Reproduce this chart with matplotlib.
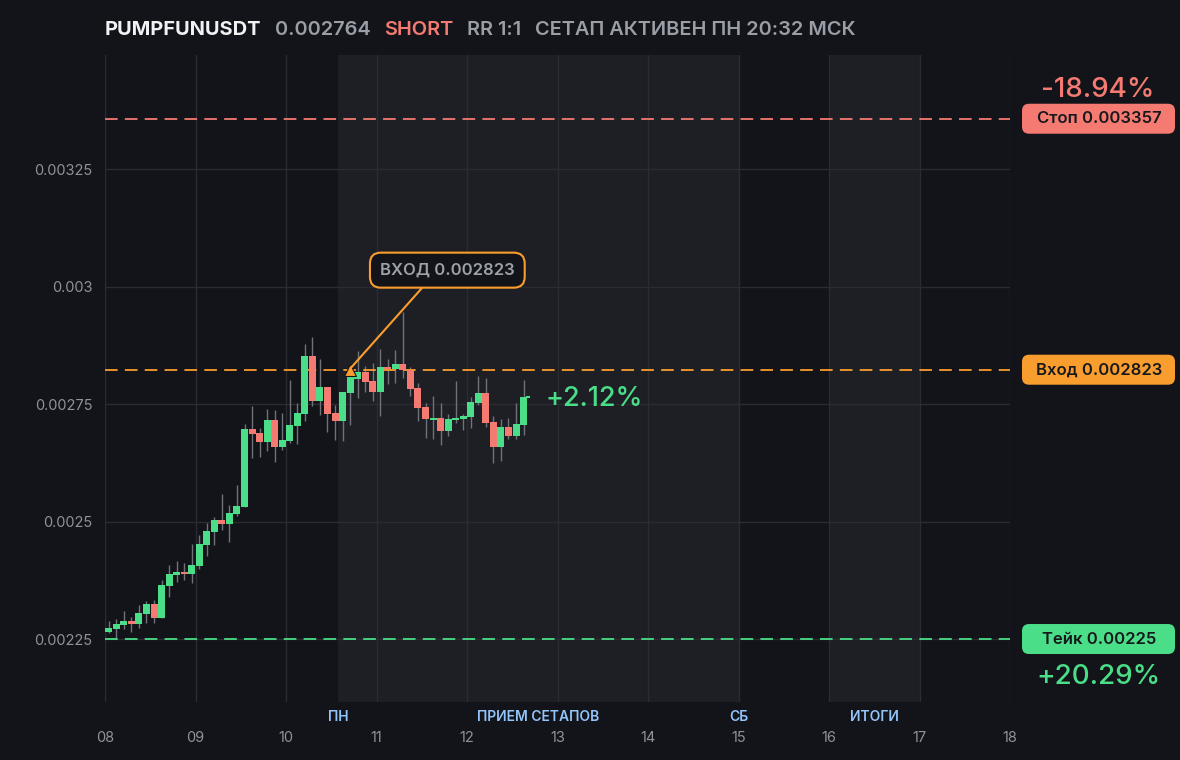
import pandas as pd
import matplotlib
matplotlib.use("Agg")
import matplotlib.pyplot as plt
import matplotlib.dates as mdates
from matplotlib.patches import FancyBboxPatch

plt.rcParams["font.family"] = ["Inter", "DejaVu Sans"]

# 2h candles, starting 08 Nov 00:00
start = "2025-11-08 01:00"
opens = [0.002265, 0.002271, 0.002280, 0.002288, 0.002282, 0.002303, 0.002324, 0.002295,
         0.002363, 0.002386, 0.002393, 0.002388, 0.002405, 0.002450, 0.002478, 0.002503,
         0.002495, 0.002516, 0.002531, 0.002697, 0.002688, 0.002669, 0.002716, 0.002659,
         0.002671, 0.002703, 0.002729, 0.002852, 0.002756, 0.002786, 0.002731, 0.002714,
         0.002773, 0.002803, 0.002818, 0.002799, 0.002776, 0.002829, 0.002824, 0.002835,
         0.002822, 0.002784, 0.002744, 0.002716, 0.002720, 0.002693, 0.002716, 0.002718,
         0.002722, 0.002752, 0.002773, 0.002712, 0.002659, 0.002701, 0.002682, 0.002705]
closes = [0.002273, 0.002282, 0.002288, 0.002282, 0.002305, 0.002324, 0.002295, 0.002365,
          0.002388, 0.002393, 0.002388, 0.002407, 0.002452, 0.002480, 0.002503, 0.002495,
          0.002518, 0.002533, 0.002697, 0.002686, 0.002669, 0.002716, 0.002659, 0.002673,
          0.002705, 0.002731, 0.002852, 0.002756, 0.002786, 0.002729, 0.002714, 0.002776,
          0.002807, 0.002818, 0.002797, 0.002776, 0.002829, 0.002824, 0.002835, 0.002822,
          0.002782, 0.002741, 0.002718, 0.002720, 0.002693, 0.002718, 0.002720, 0.002724,
          0.002754, 0.002773, 0.002710, 0.002659, 0.002701, 0.002682, 0.002707, 0.002764]
highs = [0.002288, 0.002293, 0.002310, 0.002297, 0.002322, 0.002331, 0.002333, 0.002376,
         0.002407, 0.002416, 0.002412, 0.002452, 0.002471, 0.002497, 0.002510, 0.002559,
         0.002535, 0.002578, 0.002707, 0.002746, 0.002699, 0.002739, 0.002737, 0.002731,
         0.002801, 0.002752, 0.002878, 0.002893, 0.002846, 0.002786, 0.002748, 0.002776,
         0.002833, 0.002863, 0.002831, 0.002837, 0.002867, 0.002846, 0.002865, 0.002946,
         0.002829, 0.002795, 0.002752, 0.002767, 0.002752, 0.002729, 0.002799, 0.002729,
         0.002765, 0.002810, 0.002805, 0.002724, 0.002718, 0.002720, 0.002752, 0.002801]
lows = [0.002263, 0.002250, 0.002271, 0.002265, 0.002273, 0.002284, 0.002284, 0.002295,
        0.002339, 0.002371, 0.002376, 0.002369, 0.002399, 0.002427, 0.002450, 0.002482,
        0.002456, 0.002512, 0.002531, 0.002635, 0.002637, 0.002650, 0.002627, 0.002652,
        0.002667, 0.002665, 0.002714, 0.002746, 0.002727, 0.002690, 0.002673, 0.002671,
        0.002705, 0.002763, 0.002776, 0.002756, 0.002724, 0.002793, 0.002795, 0.002805,
        0.002767, 0.002714, 0.002678, 0.002676, 0.002663, 0.002682, 0.002710, 0.002695,
        0.002699, 0.002748, 0.002701, 0.002624, 0.002629, 0.002676, 0.002676, 0.002684]

entry = 0.002823
stop = 0.003357
take = 0.00225
last_price = 0.002764
entry_index = 32
yticks = [0.00225, 0.0025, 0.00275, 0.003, 0.00325]

BG = "#131419"
BAND = "#1e1f24"
GRID = "#2a2c31"
GREEN = "#4ade88"
RED = "#f47a72"
ORANGE = "#f99d2e"
WICK = "#6f7279"
TXT = "#8e929a"
BLUE = "#93c5fd"

times = pd.date_range(start, periods=len(opens), freq="2h")

fig = plt.figure(figsize=(11.8, 7.6), dpi=100, facecolor=BG)
ax = fig.add_axes([105 / 1180, 58 / 760, 905 / 1180, 647 / 760])
ax.set_facecolor(BG)

# session bands
ax.axvspan(pd.Timestamp("2025-11-10 13:48"), pd.Timestamp("2025-11-15"), color=BAND, zorder=0, lw=0)
ax.axvspan(pd.Timestamp("2025-11-16"), pd.Timestamp("2025-11-17"), color=BAND, zorder=0, lw=0)

# candles
w = 1.85 / 24
for t, o, c, h, l in zip(times, opens, closes, highs, lows):
    col = GREEN if c >= o else RED
    ax.vlines(t, l, h, color=WICK, lw=1, zorder=2)
    ax.bar(t, max(abs(c - o), 0.0000025), width=w, bottom=min(o, c), color=col, lw=0, zorder=3)

# levels
ax.axhline(stop, color=RED, lw=1.3, ls=(0, (7, 4)), zorder=2)
ax.axhline(entry, color=ORANGE, lw=1.3, ls=(0, (7, 4)), zorder=2)
ax.axhline(take, color=GREEN, lw=1.3, ls=(0, (7, 4)), zorder=2)

# entry marker + callout
ax.plot(times[entry_index], entry, marker="^", ms=9, color=ORANGE, mec="#131419", mew=0.8, zorder=6)
ax.annotate("ВХОД 0.002823", xy=(times[entry_index], entry + 0.000002),
            xytext=(70, 71), textcoords="offset points", ha="center", va="center",
            fontsize=12, fontweight="semibold", color="#9da1a9",
            bbox=dict(boxstyle="round,pad=0.6,rounding_size=0.65", fc=BG, ec=ORANGE, lw=1.5),
            arrowprops=dict(arrowstyle="-", color=ORANGE, lw=1.5, shrinkA=0, shrinkB=0,
                            relpos=(0.38, 0)), zorder=7)

# last price
ax.hlines(last_price, times[-1] + pd.Timedelta("40min"), times[-1] + pd.Timedelta("95min"),
          color=GREEN, lw=1.5, zorder=3)
ax.annotate("+2.12%", xy=(times[-1], last_price), xytext=(16, -1), textcoords="offset points",
            ha="left", va="center", fontsize=19.5, fontweight="medium", color=GREEN)

# axes
ax.set_xlim(pd.Timestamp("2025-11-08"), pd.Timestamp("2025-11-18"))
ax.set_ylim(0.002116, 0.0034926)
ax.xaxis.set_major_locator(mdates.DayLocator())
ax.xaxis.set_major_formatter(mdates.DateFormatter("%d"))
ax.set_yticks(yticks)
ax.set_yticklabels([f"{v:g}" for v in yticks])
ax.grid(True, color=GRID, lw=1)
ax.set_axisbelow(True)
for s in ax.spines.values():
    s.set_visible(False)
ax.tick_params(axis="x", length=0, pad=21, colors=TXT, labelsize=10.5)
ax.tick_params(axis="y", length=0, pad=9, colors=TXT, labelsize=10.5)

# event labels under the axis
xt = ax.get_xaxis_transform()
events = [("ПН", "2025-11-10 13:48"), ("ПРИЕМ СЕТАПОВ", "2025-11-12 18:54"),
          ("СБ", "2025-11-15"), ("ИТОГИ", "2025-11-16 12:00")]
for name, t in events:
    ax.text(pd.Timestamp(t), -0.023, name, transform=xt, ha="center", va="center",
            fontsize=10, fontweight="semibold", color=BLUE)

# right side tags
def tag(y_price, text, fc):
    yf = ax.transData.transform((0, y_price))[1]
    yf = fig.transFigure.inverted().transform((0, yf))[1]
    box = FancyBboxPatch((1022 / 1180, yf - 15 / 760), 153 / 1180, 30 / 760,
                         boxstyle="round,pad=0,rounding_size=0.006", transform=fig.transFigure,
                         fc=fc, ec="none", mutation_aspect=1180 / 760)
    fig.patches.append(box)
    fig.text(1099 / 1180, yf, text, ha="center", va="center", fontsize=12,
             fontweight="semibold", color="#17181c")
    return yf

ys = tag(stop, "Стоп 0.003357", RED)
tag(entry, "Вход 0.002823", ORANGE)
yt = tag(take, "Тейк 0.00225", GREEN)
fig.text(1098 / 1180, ys + 29 / 760, "-18.94%", ha="center", va="center", fontsize=20,
         fontweight="medium", color=RED)
fig.text(1098 / 1180, yt - 38 / 760, "+20.29%", ha="center", va="center", fontsize=20,
         fontweight="medium", color=GREEN)

# header
hy = 1 - 30 / 760
fig.text(105 / 1180, hy, "PUMPFUNUSDT", ha="left", va="center", fontsize=14.4, fontweight="bold", color="#f1f2f4")
fig.text(275 / 1180, hy, "0.002764", ha="left", va="center", fontsize=14.4, fontweight="semibold", color="#9a9ea6")
fig.text(384 / 1180, hy, "SHORT", ha="left", va="center", fontsize=14.4, fontweight="semibold", color=RED)
fig.text(467 / 1180, hy, "RR 1:1", ha="left", va="center", fontsize=14.4, fontweight="semibold", color="#9a9ea6")
fig.text(535 / 1180, hy, "СЕТАП АКТИВЕН ПН 20:32 МСК", ha="left", va="center", fontsize=14.4,
         fontweight="semibold", color="#9a9ea6")

fig.savefig("out.png", dpi=100, facecolor=BG)
